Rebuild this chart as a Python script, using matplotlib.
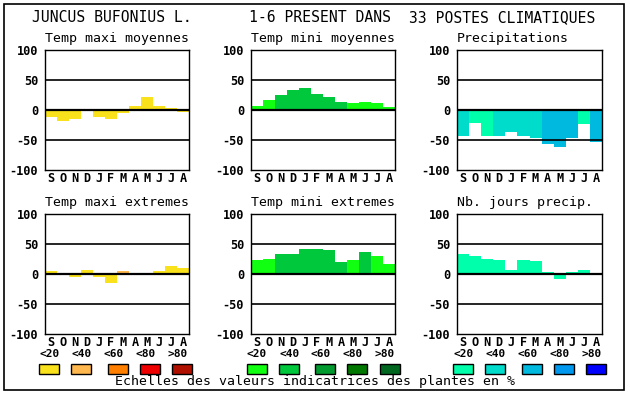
import matplotlib
matplotlib.use("Agg")
import matplotlib.pyplot as plt
from matplotlib.patches import Rectangle

months = ["S", "O", "N", "D", "J", "F", "M", "A", "M", "J", "J", "A"]
yticks = [-100, -50, 0, 50, 100]
scale_labels = ["<20", "<40", "<60", "<80", ">80"]

titles = ["Temp maxi moyennes", "Temp mini moyennes", "Precipitations",
          "Temp maxi extremes", "Temp mini extremes", "Nb. jours precip."]

tmax_moy = [-11, -18, -14.5, 0, -11, -14.5, -4.5, 7, 22, 7, 3.5, -3]
tmax_moy_cls = [0] * 12
tmin_moy = [7, 17, 25, 34, 37, 27, 22, 13.5, 12, 13.5, 12, 5]
tmin_moy_cls = [0, 0, 1, 1, 1, 1, 1, 1, 0, 0, 0, 0]
precip = [-44, -22, -44, -44, -37, -44, -47, -57, -62, -47, -23.5, -54]
precip_cls = [1, 0, 0, 1, 1, 1, 1, 2, 2, 2, 0, 2]
tmax_ext = [5.5, 0, -4.5, 7, -5.5, -15.5, 5.5, 0, -2, 5.5, 14, 10.5]
tmax_ext_cls = [0, 0, 0, 0, 0, 0, 1, 0, 0, 0, 0, 0]
tmin_ext = [24, 25.5, 34, 34, 42, 42, 40.5, 20.5, 24, 37, 30.5, 17]
tmin_ext_cls = [0, 0, 1, 1, 1, 1, 1, 1, 0, 1, 0, 0]
jours = [34, 30.5, 25.5, 24, 7, 24, 22, 4, -8, 4, 7, 2]
jours_cls = [0] * 12

warm = ["#f9e11c", "#ffb84e", "#ff7f00", "#ee0000", "#b01000"]
green = ["#11ff11", "#00c83c", "#009a2e", "#007800", "#006620"]
cyan = ["#00ffaa", "#00dccc", "#00b9de", "#0098ee", "#0000ff"]

W, H = 630, 394
fig = plt.figure(figsize=(W / 100, H / 100), dpi=100)
mono = "DejaVu Sans Mono"


def rect(x0, y0, x1, y1):
    return [x0 / W, 1 - y1 / H, (x1 - x0) / W, (y1 - y0) / H]


def ftext(x, y, s, **kw):
    fig.text(x / W, 1 - y / H, s, family=mono, **kw)


panels = [
    (tmax_moy, tmax_moy_cls, warm, 45, 189, 50, 170),
    (tmin_moy, tmin_moy_cls, green, 251, 395, 50, 170),
    (precip, precip_cls, cyan, 457, 602, 50, 170),
    (tmax_ext, tmax_ext_cls, warm, 45, 189, 214, 334),
    (tmin_ext, tmin_ext_cls, green, 251, 395, 214, 334),
    (jours, jours_cls, cyan, 457, 602, 214, 334),
]

for i, (vals, cls, pal, x0, x1, y0, y1) in enumerate(panels):
    ax = fig.add_axes(rect(x0, y0, x1, y1))
    cols = [pal[c] for c in cls]
    ax.bar(range(12), vals, width=1.0, align="edge", color=cols,
           edgecolor="none", linewidth=0, zorder=1)
    ax.set_xlim(0, 12)
    ax.set_ylim(-100, 100)
    for yv in (50, -50):
        ax.axhline(yv, color="black", lw=1.2, zorder=3)
    ax.axhline(0, color="black", lw=1.6, zorder=3)
    ax.set_yticks(yticks)
    ax.set_yticklabels([str(v) for v in yticks], family=mono,
                       fontweight="bold", fontsize=8.6)
    ax.set_xticks([k + 0.5 for k in range(12)])
    ax.set_xticklabels(months, family=mono, fontweight="bold", fontsize=8.6)
    ax.tick_params(length=0)
    ax.tick_params(axis="y", pad=5)
    ax.tick_params(axis="x", pad=1.5)
    for sp in ax.spines.values():
        sp.set_linewidth(1.0)
        sp.set_color("black")
    ax.text(0, 1.04, titles[i], transform=ax.transAxes, family=mono,
            fontsize=9.5, ha="left", va="bottom")

# header
ftext(112, 18, "JUNCUS BUFONIUS L.", fontsize=10.6, ha="center", va="center")
ftext(320, 18, "1-6 PRESENT DANS", fontsize=10.6, ha="center", va="center")
ftext(502, 18, "33 POSTES CLIMATIQUES", fontsize=10.6, ha="center", va="center")

# legends
label_off = [0, 33, 64, 96, 128]
sw_off = [0, 32, 68.5, 100.5, 133]
for g0, pal in zip([39, 246.5, 453], [warm, green, cyan]):
    for k in range(5):
        ftext(g0 + label_off[k], 354, scale_labels[k], fontsize=8.0,
              fontweight="bold", ha="left", va="center")
        x = g0 + sw_off[k]
        fig.patches.append(Rectangle((x / W, 1 - 374 / H), 20 / W, 10 / H,
                                     transform=fig.transFigure,
                                     facecolor=pal[k], edgecolor="black",
                                     linewidth=1.0))

ftext(315, 382, "Echelles des valeurs indicatrices des plantes en %",
      fontsize=9.5, ha="center", va="center")

fig.patches.append(Rectangle((4 / W, 1 - 390 / H), 620 / W, 386 / H,
                             transform=fig.transFigure, facecolor="none",
                             edgecolor="black", linewidth=1.2))

fig.savefig("out.png", dpi=100)
